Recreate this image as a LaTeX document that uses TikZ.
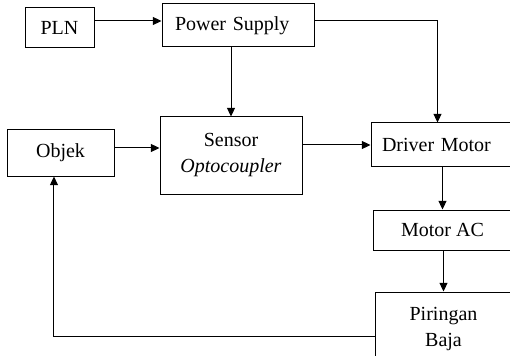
\documentclass[tikz,border=0pt]{standalone}
\usepackage{fontspec}
\setmainfont{Liberation Serif}
\usetikzlibrary{arrows.meta}

\begin{document}
\begin{tikzpicture}[x=0.75pt, y=-0.75pt,
                    every node/.style={font=\fontsize{15}{18}\selectfont},
                    blok/.style={draw, line width=0.75pt, inner sep=0pt},
                    sz/.style 2 args={minimum width=#1*0.75pt,
                                      minimum height=#2*0.75pt},
                    kiri/.style 2 args={text width=#1*0.75pt,
                                        inner xsep=#2*0.75pt,
                                        align=left},
                    pan/.style={line width=0.75pt,
                                -{Triangle[length=6.5pt, width=6pt]}}]

                      \useasboundingbox (0,0) rectangle (510,356);
                      \clip (0,0) rectangle (510,356);

                      \node[blok, sz={69}{40}] (pln) at (59.5, 28) {PLN};
                      \node[blok, sz={152}{43}, kiri={126}{13}] (ps) at (238, 25.5) {Power Supply};
                      \node[blok, sz={107}{46}] (obj) at (60.5, 153) {Objek};
                      \node[blok, sz={142}{77}, align=center] (sen) at (231, 155.5)
                          {Sensor\\[1.5pt] \textit{Optocoupler}};
                      \node[blok, sz={141}{44}, kiri={119}{11}] (drv) at (441.5, 145) {Driver Motor};
                      \node[blok, sz={139}{40}] (mot) at (442.5, 230) {Motor AC};
                      \node[blok, sz={137}{74}, align=center] (pir) at (443.5, 329)
                          {Piringan\\[1.5pt] Baja};

                      \draw[pan] (pln.east |- 0,21) -- (ps.west |- 0,21);
                      \draw[pan] (ps.east |- 0,21) -| ([xshift=-3pt]drv.north);
                      \draw[pan] (obj.east |- 0,148) -- (sen.west |- 0,148);
                      \draw[pan] (sen.east |- drv.west) -- (drv.west);
                      \draw[pan] (pir.west |- 0,336) -| ([xshift=-4.9pt]obj.south);

                      \foreach \i/\j in {ps/sen, drv/mot, mot/pir} {
                              \draw[pan] (\j.north |- \i.south) -- (\j.north);
                          }
                  \end{tikzpicture}
\end{document}
